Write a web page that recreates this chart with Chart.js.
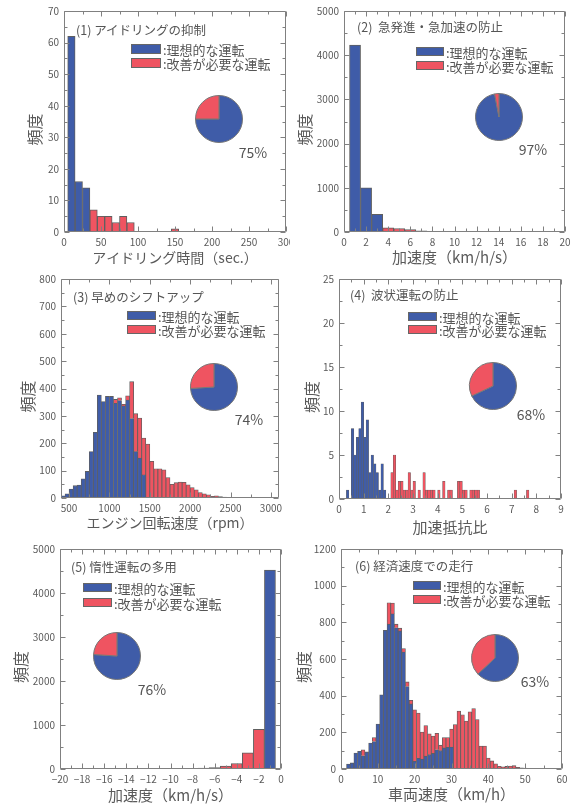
<!DOCTYPE html>
<html><head><meta charset="utf-8">
<script src="https://cdn.jsdelivr.net/npm/chart.js@4.4.1/dist/chart.umd.min.js"></script>
<style>
html,body{margin:0;padding:0;background:#fff;}
#wrap{position:relative;width:574px;height:807px;overflow:hidden;font-family:'Noto Sans CJK JP',sans-serif;color:#555;}
canvas{position:absolute;}
.t{position:absolute;white-space:pre;line-height:1;}
.box{position:absolute;border:1px solid #666;box-sizing:border-box;}
</style></head><body><div id="wrap"></div>
<script>
// ---------- data ----------
const seriesNames = ['理想的な運転', '改善が必要な運転'];
const panelTitles = ['(1) アイドリングの抑制', '(2)  急発進・急加速の防止', '(3) 早めのシフトアップ', '(4)  波状運転の防止', '(5) 惰性運転の多用', '(6) 経済速度での走行'];
const xTitles = ['アイドリング時間（sec.）', '加速度（km/h/s）', 'エンジン回転速度（rpm）', '加速抵抗比', '加速度（km/h/s）', '車両速度（km/h）'];
const yTitle = '頻度';
const idealPct = [75, 97, 74, 68, 76, 63];

// (1) idling time
const idleBins    = [10, 20, 30, 40, 50, 60, 70, 80, 90, 100, 110, 120, 130, 140, 150];
const idleIdeal   = [62, 16, 14, 0, 0, 0, 0, 0, 0, 0, 0, 0, 0, 0, 0];
const idleImprove = [0, 0, 0, 7, 5, 5, 3, 5, 3, 0, 0, 0, 0, 0, 1];
const idleXTicks = [0, 50, 100, 150, 200, 250, 300];
const idleYTicks = [0, 10, 20, 30, 40, 50, 60, 70];

// (2) acceleration
const accBins    = [1, 2, 3, 4, 5, 6, 7, 8, 9, 10, 11];
const accIdeal   = [4230, 1000, 400, 0, 0, 0, 0, 0, 0, 0, 0];
const accImprove = [0, 0, 0, 95, 80, 55, 25, 5, 5, 15, 15];
const accXTicks = [0, 2, 4, 6, 8, 10, 12, 14, 16, 18, 20];
const accYTicks = [0, 1000, 2000, 3000, 4000, 5000];

// (3) engine speed
const rpmBins = [425, 475, 525, 575, 625, 675, 725, 775, 825, 875, 925, 975, 1025, 1075, 1125, 1175, 1225, 1275, 1325, 1375, 1425,
                 1475, 1525, 1575, 1625, 1675, 1725, 1775, 1825, 1875, 1925, 1975, 2025, 2075, 2125, 2175, 2225, 2275, 2325, 2375, 2425, 2475];
const rpmIdeal = [8, 15, 33, 45, 47, 70, 97, 170, 240, 376, 352, 371, 371, 346, 356, 337, 358, 290, 170, 146, 85,
                  0, 0, 0, 0, 0, 0, 0, 0, 0, 0, 0, 0, 0, 0, 0, 0, 0, 0, 0, 0, 0];
const rpmImprove = [0, 0, 0, 0, 0, 0, 0, 0, 0, 0, 0, 0, 0, 14, 10, 5, 15, 135, 138, 146, 134,
                    197, 134, 107, 107, 103, 75, 50, 56, 58, 57, 48, 38, 30, 20, 15, 12, 6, 8, 5, 3, 2];
const rpmXTicks = [500, 1000, 1500, 2000, 2500, 3000];
const rpmYTicks = [0, 100, 200, 300, 400, 500, 600, 700, 800];

// (4) acceleration resistance ratio
const ratioIdealX = [0.35, 0.55, 0.65, 0.75, 0.85, 0.95, 1.05, 1.15, 1.25, 1.35, 1.45, 1.55, 1.65, 1.75, 1.85];
const ratioIdealY = [1, 8, 5, 7, 8, 11, 7, 9, 3, 5, 4, 3, 1, 4, 1];
const ratioImproveX = [2.15, 2.25, 2.35, 2.45, 2.55, 2.65, 2.75, 2.85, 2.95, 3.05, 3.25, 3.45, 3.55, 3.65, 3.75, 3.85,
                       4.05, 4.25, 4.45, 4.55, 4.85, 4.95, 5.05, 5.15, 5.35, 5.45, 5.55, 5.65, 7.15, 7.65];
const ratioImproveY = [3, 5, 1, 2, 2, 1, 1, 3, 1, 2, 1, 3, 1, 1, 1, 1,
                       1, 2, 1, 1, 2, 2, 1, 1, 1, 1, 1, 1, 1, 1];
const ratioXTicks = [0, 1, 2, 3, 4, 5, 6, 7, 8, 9];
const ratioYTicks = [0, 5, 10, 15, 20, 25];

// (5) deceleration
const decBins    = [-12, -11, -10, -9, -8, -7, -6, -5, -4, -3, -2, -1];
const decIdeal   = [0, 0, 0, 0, 0, 0, 0, 0, 0, 0, 0, 4520];
const decImprove = [6, 0, 0, 10, 12, 20, 35, 65, 125, 370, 900, 0];
const decXTicks = [-20, -18, -16, -14, -12, -10, -8, -6, -4, -2, 0];
const decYTicks = [0, 1000, 2000, 3000, 4000, 5000];

// (6) vehicle speed
const spdBins = [2, 3, 4, 5, 6, 7, 8, 9, 10, 11, 12, 13, 14, 15, 16, 17, 18, 19, 20, 21, 22, 23, 24, 25, 26, 27,
                 28, 29, 30, 31, 32, 33, 34, 35, 36, 37, 38, 39, 40, 41, 42, 43, 44, 45, 46, 47, 48, 49, 50, 51, 52, 53];
const spdIdeal = [27, 33, 87, 96, 72, 93, 142, 150, 245, 405, 757, 790, 846, 770, 753, 638, 450, 355, 42, 58, 54, 70, 78, 85, 105, 100,
                  115, 118, 120, 0, 0, 0, 0, 0, 0, 0, 0, 0, 0, 0, 0, 0, 0, 0, 0, 0, 0, 0, 0, 0, 0, 0];
const spdImprove = [0, 0, 0, 0, 33, 0, 0, 22, 0, 0, 0, 117, 59, 20, 15, 19, 25, 20, 281, 247, 148, 167, 114, 95, 90, 30,
                    57, 54, 98, 242, 316, 296, 262, 312, 330, 270, 125, 125, 60, 44, 28, 15, 12, 14, 16, 18, 9, 7, 5, 4, 0, 4];
const spdXTicks = [0, 10, 20, 30, 40, 50, 60];
const spdYTicks = [0, 200, 400, 600, 800, 1000, 1200];

// ---------- styling / layout ----------
const BLUE = '#3f5ca8', RED = '#ef5461', EDGE = '#5f5f5f', FRAME = '#808080', TXT = '#5a5a5a';
const FONT = "'Noto Sans CJK JP', sans-serif";
const wrap = document.getElementById('wrap');

const framePlugin = {
  id: 'frame',
  afterDatasetsDraw(chart, args, o) {
    const {ctx, chartArea: a, scales: {x, y}} = chart;
    ctx.save();
    ctx.strokeStyle = FRAME; ctx.lineWidth = 1;
    ctx.beginPath();
    const L = Math.round(a.left) + 0.5, R = Math.round(a.right) - 0.5, T = Math.round(a.top) + 0.5, B = Math.round(a.bottom) - 0.5;
    const n0 = Math.ceil(x.min / o.xMinor - 1e-6), n1 = Math.floor(x.max / o.xMinor + 1e-6);
    for (let i = n0; i <= n1; i++) {
      const v = i * o.xMinor;
      const px = Math.round(x.getPixelForValue(v)) + 0.5;
      const r = v / o.xMajor, len = Math.abs(r - Math.round(r)) < 1e-6 ? 5 : 3;
      ctx.moveTo(px, B); ctx.lineTo(px, B - len);
      ctx.moveTo(px, T); ctx.lineTo(px, T + len);
    }
    const m0 = Math.ceil(y.min / o.yMinor - 1e-6), m1 = Math.floor(y.max / o.yMinor + 1e-6);
    for (let i = m0; i <= m1; i++) {
      const v = i * o.yMinor;
      const py = Math.round(y.getPixelForValue(v)) + 0.5;
      const r = v / o.yMajor, len = Math.abs(r - Math.round(r)) < 1e-6 ? 5 : 3;
      ctx.moveTo(L, py); ctx.lineTo(L + len, py);
      ctx.moveTo(R, py); ctx.lineTo(R - len, py);
    }
    ctx.rect(L, T, R - L, B - T);
    ctx.stroke();
    ctx.restore();
  }
};

function addText(txt, x, y, size, anchor) {
  const d = document.createElement('div');
  d.className = 't';
  d.textContent = txt;
  d.style.left = x + 'px'; d.style.top = y + 'px';
  d.style.fontSize = size + 'px';
  d.style.transform = anchor === 'c' ? 'translate(-50%,-50%)' : 'translateY(-50%)';
  wrap.appendChild(d);
}
function addBox(x0, y0, x1, y1, color) {
  const d = document.createElement('div');
  d.className = 'box';
  d.style.left = x0 + 'px'; d.style.top = y0 + 'px';
  d.style.width = (x1 - x0) + 'px'; d.style.height = (y1 - y0) + 'px';
  d.style.background = color;
  wrap.appendChild(d);
}
const nz = v => (v === 0 ? null : v);
const numFmt = v => (v < 0 ? '\u2212' + Math.abs(v) : String(v));

function makePanel(p) {
  const c = document.createElement('canvas');
  c.width = p.W; c.height = p.H;
  c.style.left = p.L + 'px'; c.style.top = p.T + 'px';
  c.style.width = p.W + 'px'; c.style.height = p.H + 'px';
  wrap.appendChild(c);
  const [px0, py0, px1, py1] = p.plot;
  const yW = px0 - p.L, padTop = py0 - p.T, padRight = p.L + p.W - px1, xH = p.T + p.H - py1;
  const ytSize = 16, ytLH = ytSize * 1.2;
  const xtLH = p.xtSize * 1.2;
  const ds = (xs, ys, col, label) => ({
    label, data: xs.map((x, i) => ({x, y: nz(ys[i])})),
    backgroundColor: col, borderColor: EDGE, borderWidth: p.bw,
    barPercentage: 1, categoryPercentage: 1
  });
  new Chart(c, {
    type: 'bar',
    data: {datasets: [ds(p.ix, p.iy, BLUE, seriesNames[0]), ds(p.rx, p.ry, RED, seriesNames[1])]},
    options: {
      responsive: false, animation: false, devicePixelRatio: 1,
      layout: {padding: {left: 0, top: padTop, right: padRight, bottom: 0}},
      plugins: {legend: {display: false}, tooltip: {enabled: false},
                frame: {xMinor: p.xMinor, xMajor: p.xMajor, yMinor: p.yMinor, yMajor: p.yMajor}},
      scales: {
        x: {
          type: 'linear', stacked: true, min: p.xMin, max: p.xMax, offset: false,
          grid: {display: false, drawTicks: false}, border: {display: false},
          afterBuildTicks: s => { s.ticks = p.xTicks.map(v => ({value: v})); },
          afterFit: s => { s.height = xH; s.paddingLeft = 0; s.paddingRight = 0; },
          ticks: {font: {family: FONT, size: 10}, color: TXT, padding: 4, maxRotation: 0, autoSkip: false, callback: numFmt},
          title: {display: true, text: p.xTitle, color: TXT, font: {family: FONT, size: p.xtSize},
                  padding: {top: 0, bottom: p.T + p.H - p.xtY - xtLH / 2}}
        },
        y: {
          stacked: true, min: p.yMin, max: p.yMax,
          grid: {display: false, drawTicks: false}, border: {display: false},
          afterBuildTicks: s => { s.ticks = p.yTicks.map(v => ({value: v})); },
          afterFit: s => { s.width = yW; s.paddingTop = 0; s.paddingBottom = 0; },
          ticks: {font: {family: FONT, size: 10}, color: TXT, padding: 5, autoSkip: false, callback: numFmt},
          title: {display: true, text: yTitle + '\u3000', color: TXT, font: {family: FONT, size: ytSize},
                  padding: {top: p.ytX - p.L - ytLH / 2, bottom: 0}}
        }
      }
    },
    plugins: [framePlugin]
  });

  // inset pie
  const pc = document.createElement('canvas');
  const S = 50;
  pc.width = S; pc.height = S;
  pc.style.left = (p.pie[0] - S / 2) + 'px'; pc.style.top = (p.pie[1] - S / 2) + 'px';
  pc.style.width = S + 'px'; pc.style.height = S + 'px';
  wrap.appendChild(pc);
  new Chart(pc, {
    type: 'pie',
    data: {labels: seriesNames, datasets: [{data: [p.pct, 100 - p.pct], backgroundColor: [BLUE, RED], borderColor: '#777', borderWidth: 1}]},
    options: {responsive: false, animation: false, devicePixelRatio: 1, layout: {padding: 1},
              plugins: {legend: {display: false}, tooltip: {enabled: false}}}
  });

  // legend, title, percentage
  const [lx0, lx1, by0, by1, ry0, ry1] = p.leg;
  addBox(lx0, by0, lx1, by1, BLUE);
  addBox(lx0, ry0, lx1, ry1, RED);
  addText(':' + seriesNames[0], lx1 + 2, (by0 + by1) / 2, 13);
  addText(':' + seriesNames[1], lx1 + 2, (ry0 + ry1) / 2, 13);
  addText(p.title, p.titlePos[0], p.titlePos[1], 12.5);
  addText(p.pct + '%', p.pctPos[0], p.pctPos[1], 14, 'c');
}

const panels = [
  {L: 0, T: 0, W: 290, H: 270, plot: [64, 11, 286, 232], ytX: 35, xtY: 258, xtSize: 14, bw: 1,
   ix: idleBins, iy: idleIdeal, rx: idleBins, ry: idleImprove, xMin: 0, xMax: 300, yMin: 0, yMax: 70,
   xTicks: idleXTicks, yTicks: idleYTicks, xMinor: 25, xMajor: 50, yMinor: 5, yMajor: 10,
   title: panelTitles[0], xTitle: xTitles[0], pct: idealPct[0],
   pie: [219, 119], pctPos: [253, 152], titlePos: [76, 30], leg: [131, 161, 44, 54, 58, 68]},
  {L: 290, T: 0, W: 284, H: 270, plot: [344, 11, 565, 232], ytX: 305, xtY: 257, xtSize: 15, bw: 1,
   ix: accBins, iy: accIdeal, rx: accBins, ry: accImprove, xMin: 0, xMax: 20, yMin: 0, yMax: 5000,
   xTicks: accXTicks, yTicks: accYTicks, xMinor: 1, xMajor: 2, yMinor: 500, yMajor: 1000,
   title: panelTitles[1], xTitle: xTitles[1], pct: idealPct[1],
   pie: [499, 117], pctPos: [533, 149], titlePos: [357, 27], leg: [416, 444, 47, 56, 61, 70]},
  {L: 0, T: 270, W: 290, H: 270, plot: [61, 279, 279, 498], ytX: 28, xtY: 523, xtSize: 14, bw: 0.8,
   ix: rpmBins, iy: rpmIdeal, rx: rpmBins, ry: rpmImprove, xMin: 400, xMax: 3100, yMin: 0, yMax: 800,
   xTicks: rpmXTicks, yTicks: rpmYTicks, xMinor: 250, xMajor: 500, yMinor: 50, yMajor: 100,
   title: panelTitles[2], xTitle: xTitles[2], pct: idealPct[2],
   pie: [214, 387], pctPos: [249, 419], titlePos: [73, 297], leg: [127, 156, 311, 320, 325, 334]},
  {L: 290, T: 270, W: 284, H: 270, plot: [339, 279, 561, 499], ytX: 312, xtY: 527, xtSize: 15, bw: 0.5,
   ix: ratioIdealX, iy: ratioIdealY, rx: ratioImproveX, ry: ratioImproveY, xMin: 0, xMax: 9, yMin: 0, yMax: 25,
   xTicks: ratioXTicks, yTicks: ratioYTicks, xMinor: 0.5, xMajor: 1, yMinor: 2.5, yMajor: 5,
   title: panelTitles[3], xTitle: xTitles[3], pct: idealPct[3],
   pie: [493, 386], pctPos: [531, 414], titlePos: [350, 295], leg: [408, 437, 312, 321, 325, 334]},
  {L: 0, T: 540, W: 290, H: 267, plot: [60, 549, 281, 769], ytX: 21, xtY: 795, xtSize: 15, bw: 1,
   ix: decBins, iy: decIdeal, rx: decBins, ry: decImprove, xMin: -20, xMax: 0, yMin: 0, yMax: 5000,
   xTicks: decXTicks, yTicks: decYTicks, xMinor: 1, xMajor: 2, yMinor: 500, yMajor: 1000,
   title: panelTitles[4], xTitle: xTitles[4], pct: idealPct[4],
   pie: [117, 656], pctPos: [152, 689], titlePos: [71, 567], leg: [83, 112, 583, 592, 598, 607]},
  {L: 290, T: 540, W: 284, H: 267, plot: [341, 549, 562, 769], ytX: 304, xtY: 794, xtSize: 15, bw: 0.8,
   ix: spdBins, iy: spdIdeal, rx: spdBins, ry: spdImprove, xMin: 0, xMax: 60, yMin: 0, yMax: 1200,
   xTicks: spdXTicks, yTicks: spdYTicks, xMinor: 5, xMajor: 10, yMinor: 100, yMajor: 200,
   title: panelTitles[5], xTitle: xTitles[5], pct: idealPct[5],
   pie: [495, 658], pctPos: [535, 681], titlePos: [355, 566], leg: [413, 441, 581, 590, 595, 604]}
];
panels.forEach(makePanel);
</script>
</body></html>
